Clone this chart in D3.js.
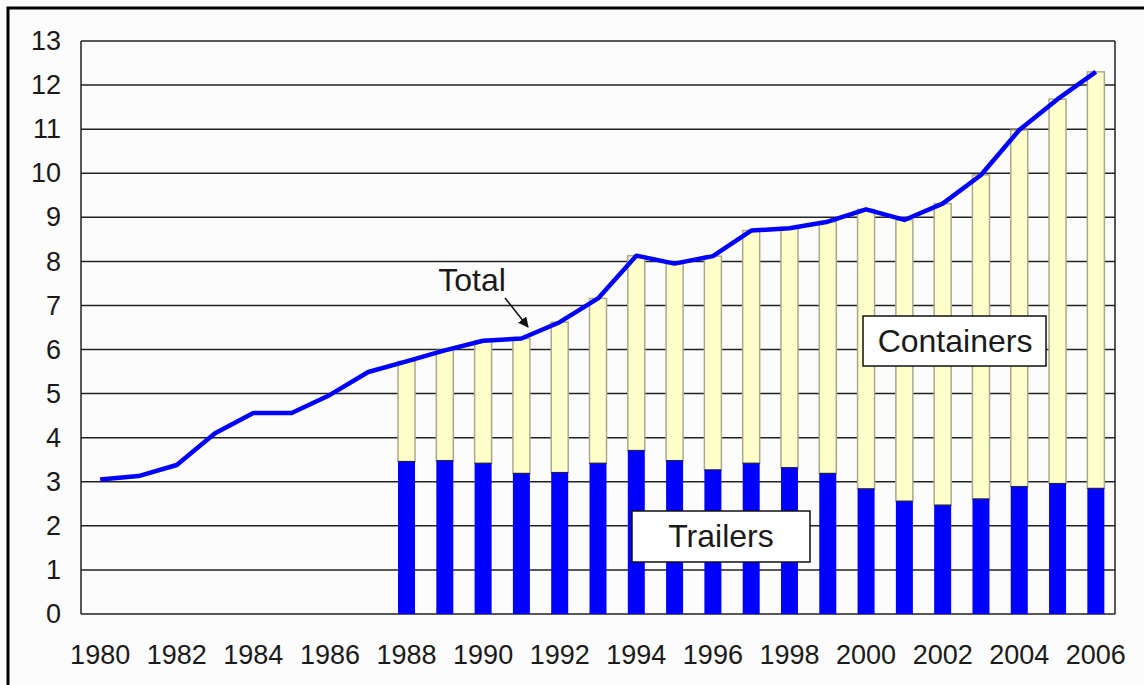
<!DOCTYPE html>
<html lang="en">
    <head>
        <meta charset="utf-8">
        <title>Total, trailers and containers</title>
        <script src="https://d3js.org/d3.v7.min.js"></script>
        <style>
            body { margin: 0; background: #fcfcfc; }
            text { font-family: "Liberation Sans", Arial, sans-serif; fill: #1a1a1a; }
        </style>
    </head>
    <body>
        <script type="text/javascript">

            // data
            var years = d3.range(1980, 2007);
            var total = [3.05, 3.13, 3.38, 4.1, 4.56, 4.56, 4.97, 5.49, 5.73, 5.98, 6.2, 6.25, 6.62, 7.16, 8.13, 7.95, 8.12, 8.7, 8.75, 8.9, 9.18, 8.94, 9.31, 9.96, 10.98, 11.68, 12.3];
            var barYears = d3.range(1988, 2007);
            var trailers = [3.46, 3.48, 3.42, 3.19, 3.21, 3.42, 3.71, 3.48, 3.27, 3.42, 3.32, 3.19, 2.84, 2.56, 2.47, 2.61, 2.89, 2.96, 2.85];
            var containers = [2.27, 2.5, 2.78, 3.06, 3.41, 3.74, 4.42, 4.47, 4.85, 5.28, 5.43, 5.71, 6.34, 6.38, 6.84, 7.35, 8.09, 8.72, 9.45];
            var yTicks = d3.range(0, 14);
            var xTickYears = d3.range(1980, 2007, 2);

            //Width and height
            var w = 1144;
            var h = 685;
            var plotLeft = 81, plotRight = 1115, plotTop = 41, plotBottom = 614;

            var xScale = d3.scaleBand()
                            .domain(years)
                            .range([plotLeft, plotRight]);

            var yScale = d3.scaleLinear()
                            .domain([0, 13])
                            .range([plotBottom, plotTop]);

            var barW = 17;

            var svg = d3.select("body")
                        .append("svg")
                        .attr("width", w)
                        .attr("height", h);

            // outer frame
            svg.append("rect")
               .attr("x", 8).attr("y", 8)
               .attr("width", 1150).attr("height", 700)
               .attr("fill", "#fcfcfc")
               .attr("stroke", "#000")
               .attr("stroke-width", 3);

            // gridlines
            svg.append("g")
               .selectAll("line")
               .data(yTicks)
               .enter()
               .append("line")
               .attr("x1", plotLeft).attr("x2", plotRight)
               .attr("y1", function(d) { return yScale(d); })
               .attr("y2", function(d) { return yScale(d); })
               .attr("stroke", "#222")
               .attr("stroke-width", 1.5);

            svg.append("line")
               .attr("x1", plotLeft).attr("x2", plotLeft)
               .attr("y1", plotTop).attr("y2", plotBottom)
               .attr("stroke", "#222").attr("stroke-width", 1.5);
            svg.append("line")
               .attr("x1", plotRight).attr("x2", plotRight)
               .attr("y1", plotTop).attr("y2", plotBottom)
               .attr("stroke", "#222").attr("stroke-width", 1.5);

            // y labels
            var yAxis = d3.axisLeft(yScale).tickValues(yTicks).tickSize(0).tickPadding(20);
            var gy = svg.append("g")
               .attr("transform", "translate(" + plotLeft + ",0)")
               .call(yAxis);
            gy.select(".domain").remove();
            gy.selectAll("text")
              .attr("font-size", "27px")
              .attr("font-family", "Liberation Sans, Arial, sans-serif")
              .attr("fill", "#1a1a1a");

            // x labels
            var xAxis = d3.axisBottom(xScale).tickValues(xTickYears).tickSize(0).tickPadding(31);
            var gx = svg.append("g")
               .attr("transform", "translate(0," + plotBottom + ")")
               .call(xAxis);
            gx.select(".domain").remove();
            gx.selectAll("text")
              .attr("font-size", "27px")
              .attr("font-family", "Liberation Sans, Arial, sans-serif")
              .attr("fill", "#1a1a1a");

            function barX(d) {
                return xScale(d) + (xScale.bandwidth() - barW) / 2;
            }

            //Containers (stacked on trailers)
            svg.append("g")
               .selectAll("rect")
               .data(barYears)
               .enter()
               .append("rect")
               .attr("x", function(d) { return barX(d); })
               .attr("y", function(d, i) { return yScale(trailers[i] + containers[i]); })
               .attr("width", barW)
               .attr("height", function(d, i) { return yScale(trailers[i]) - yScale(trailers[i] + containers[i]); })
               .attr("fill", "#ffffcc")
               .attr("stroke", "#a9a98a")
               .attr("stroke-width", 1.5);

            //Trailers
            svg.append("g")
               .selectAll("rect")
               .data(barYears)
               .enter()
               .append("rect")
               .attr("x", function(d) { return barX(d); })
               .attr("y", function(d, i) { return yScale(trailers[i]); })
               .attr("width", barW)
               .attr("height", function(d, i) { return plotBottom - yScale(trailers[i]); })
               .attr("fill", "#0000ff");

            svg.append("g")
               .selectAll("line")
               .data(barYears)
               .enter()
               .append("line")
               .attr("x1", function(d) { return barX(d); })
               .attr("x2", function(d) { return barX(d) + barW; })
               .attr("y1", function(d, i) { return yScale(trailers[i]); })
               .attr("y2", function(d, i) { return yScale(trailers[i]); })
               .attr("stroke", "#202040")
               .attr("stroke-width", 1);

            //Total line
            var line = d3.line()
                .x(function(d, i) { return xScale(years[i]) + xScale.bandwidth() / 2; })
                .y(function(d) { return yScale(d); });

            svg.append("path")
               .datum(total)
               .attr("d", line)
               .attr("fill", "none")
               .attr("stroke", "#0000ff")
               .attr("stroke-width", 4.5)
               .attr("stroke-linejoin", "round");

            //Labels
            svg.append("defs").append("marker")
               .attr("id", "arrow")
               .attr("viewBox", "0 0 10 10")
               .attr("refX", 9).attr("refY", 5)
               .attr("markerWidth", 7).attr("markerHeight", 7)
               .attr("orient", "auto")
               .append("path")
               .attr("d", "M0,0 L10,5 L0,10 z")
               .attr("fill", "#111");

            svg.append("text")
               .attr("x", 472).attr("y", 291)
               .attr("text-anchor", "middle")
               .attr("font-size", "32px")
               .text("Total");

            svg.append("line")
               .attr("x1", 505).attr("y1", 298)
               .attr("x2", 528).attr("y2", 327)
               .attr("stroke", "#111")
               .attr("stroke-width", 1.5)
               .attr("marker-end", "url(#arrow)");

            svg.append("rect")
               .attr("x", 863).attr("y", 316)
               .attr("width", 183).attr("height", 50)
               .attr("fill", "#fff")
               .attr("stroke", "#111")
               .attr("stroke-width", 1.5);
            svg.append("text")
               .attr("x", 955).attr("y", 352)
               .attr("text-anchor", "middle")
               .attr("font-size", "32px")
               .text("Containers");

            svg.append("rect")
               .attr("x", 632).attr("y", 511)
               .attr("width", 178).attr("height", 51)
               .attr("fill", "#fff")
               .attr("stroke", "#111")
               .attr("stroke-width", 1.5);
            svg.append("text")
               .attr("x", 721).attr("y", 547)
               .attr("text-anchor", "middle")
               .attr("font-size", "32px")
               .text("Trailers");

        </script>
    </body>
</html>
